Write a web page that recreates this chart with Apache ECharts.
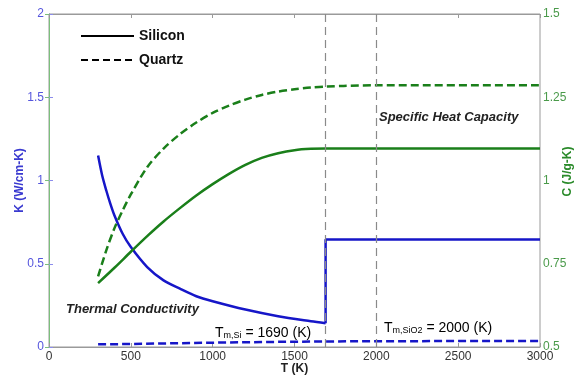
<!DOCTYPE html>
<html><head><meta charset="utf-8">
<script src="https://cdn.jsdelivr.net/npm/echarts@6/dist/echarts.min.js"></script>
<style>html,body{margin:0;padding:0;background:#fff}#c{width:575px;height:377px}</style>
</head><body><div id="c"></div>
<script>
// Temperatures (K) and values
var siK_T    = [300, 325, 350, 375, 400, 450, 500, 600, 700, 800, 900, 1000, 1200, 1400, 1600, 1690];
var siK_V    = [1.15, 1.03, 0.94, 0.86, 0.79, 0.68, 0.60, 0.48, 0.40, 0.35, 0.305, 0.275, 0.225, 0.185, 0.155, 0.143];
var siKliq_T = [1690, 1690, 3000];
var siKliq_V = [0.143, 0.645, 0.645];
var qzK_T    = [300, 500, 800, 1000, 1500, 2000, 3000];
var qzK_V    = [0.016, 0.018, 0.023, 0.026, 0.032, 0.035, 0.036];
var siC_T    = [300, 400, 500, 600, 700, 800, 900, 1000, 1100, 1200, 1300, 1400, 1500, 1600, 1690, 3000];
var siC_V    = [0.692, 0.738, 0.786, 0.833, 0.877, 0.917, 0.955, 0.989, 1.020, 1.047, 1.068, 1.082, 1.091, 1.095, 1.096, 1.096];
var qzC_T    = [300, 350, 400, 450, 500, 600, 700, 800, 900, 1000, 1100, 1200, 1300, 1400, 1500, 1600, 1700, 1800, 2000, 3000];
var qzC_V    = [0.712, 0.79, 0.857, 0.91, 0.958, 1.04, 1.096, 1.139, 1.174, 1.203, 1.225, 1.243, 1.257, 1.267, 1.274, 1.279, 1.282, 1.284, 1.286, 1.286];
var meltT    = [1690, 2000];
var legendNames = ['Silicon', 'Quartz'];

function pairs(t, v){ return t.map(function(x,i){ return [x, v[i]]; }); }

var FONT = 'Liberation Sans, Arial, sans-serif';
var BLUE = '#1616c8', GREEN = '#1a7f1a';

var chart = echarts.init(document.getElementById('c'));
chart.setOption({
  animation: false,
  textStyle: { fontFamily: FONT },
  grid: { left: 49, right: 35, top: 14, bottom: 30, show: true, borderColor: '#9a9a9a', borderWidth: 1,
          containLabel: false, outerBoundsMode: 'none' },
  legend: {
    orient: 'vertical', left: 75, top: 24, itemWidth: 53, itemHeight: 12, itemGap: 10,
    itemStyle: { opacity: 0 },
    textStyle: { fontFamily: FONT, fontSize: 14, fontWeight: 'bold', color: '#111' },
    data: legendNames
  },
  xAxis: [{
    type: 'value', min: 0, max: 3000, interval: 500,
    name: 'T (K)', nameLocation: 'middle', nameGap: 16, nameMoveOverlap: false,
    nameTextStyle: { fontFamily: FONT, fontSize: 12, fontWeight: 'bold', color: '#222' },
    axisLine: { lineStyle: { color: '#9a9a9a' } },
    axisTick: { inside: true, length: 4, lineStyle: { color: '#9a9a9a' } },
    axisLabel: { fontFamily: FONT, fontSize: 12, color: '#333', margin: 4, formatter: function(v){ return String(v); } },
    splitLine: { show: false }
  }, {
    type: 'value', min: 0, max: 3000, interval: 500, position: 'top',
    axisLine: { lineStyle: { color: '#9a9a9a' } },
    axisTick: { inside: true, length: 4, lineStyle: { color: '#9a9a9a' } },
    axisLabel: { show: false }, splitLine: { show: false }
  }],
  yAxis: [{
    type: 'value', min: 0, max: 2, interval: 0.5, position: 'left',
    name: 'K (W/cm-K)', nameLocation: 'middle', nameGap: 23, nameRotate: 90, nameMoveOverlap: false,
    nameTextStyle: { fontFamily: FONT, fontSize: 12, fontWeight: 'bold', color: '#3a3ad0' },
    axisLine: { show: true, lineStyle: { color: '#8c8cec' } },
    axisTick: { show: true, inside: true, length: 4, lineStyle: { color: '#8c8cec' } },
    axisLabel: { fontFamily: FONT, fontSize: 12, color: '#5555dd', margin: 5 },
    splitLine: { show: false }
  }, {
    type: 'value', min: 0.5, max: 1.5, interval: 0.25, position: 'right',
    name: 'C (J/g-K)', nameLocation: 'middle', nameGap: 22, nameRotate: 90, nameMoveOverlap: false,
    nameTextStyle: { fontFamily: FONT, fontSize: 12, fontWeight: 'bold', color: '#2a8a2a', padding: [0, 0, 0, 18] },
    axisLine: { show: true, lineStyle: { color: '#7cbf7c' } },
    axisTick: { show: true, inside: true, length: 4, lineStyle: { color: '#7cbf7c' } },
    axisLabel: { fontFamily: FONT, fontSize: 12, color: '#4a9a4a', margin: 3 },
    splitLine: { show: false }
  }],
  series: [
    { name: 'Silicon', type: 'line', data: [], symbol: 'none', lineStyle: { color: '#000', width: 2.5 }, itemStyle: { color: '#000' } },
    { name: 'Quartz', type: 'line', data: [], symbol: 'none', lineStyle: { color: '#000', width: 2.5, type: [7, 4] }, itemStyle: { color: '#000' } },
    { type: 'line', yAxisIndex: 0, data: pairs(siK_T, siK_V), symbol: 'none', smooth: 0.3,
      lineStyle: { color: BLUE, width: 2.5 } },
    { type: 'line', yAxisIndex: 0, data: pairs(siKliq_T, siKliq_V), symbol: 'none', smooth: false,
      lineStyle: { color: BLUE, width: 2.5 } },
    { type: 'line', yAxisIndex: 0, data: pairs(qzK_T, qzK_V), symbol: 'none',
      lineStyle: { color: BLUE, width: 2.5, type: [8, 4] },
      markLine: { silent: true, symbol: 'none', label: { show: false },
        lineStyle: { color: '#8a8a8a', width: 1.2, type: [8, 5] },
        data: meltT.map(function(t){ return { xAxis: t }; }) } },
    { type: 'line', yAxisIndex: 1, data: pairs(siC_T, siC_V), symbol: 'none', smooth: 0.3,
      lineStyle: { color: GREEN, width: 2.5 } },
    { type: 'line', yAxisIndex: 1, data: pairs(qzC_T, qzC_V), symbol: 'none', smooth: 0.3,
      lineStyle: { color: GREEN, width: 2.5, type: [8, 4] } }
  ],
  graphic: [
    { type: 'text', left: 66, top: 303, style: { text: 'Thermal Conductivity', fontFamily: FONT, fontSize: 13, fontWeight: 'bold', fontStyle: 'italic', fill: '#222' } },
    { type: 'text', left: 379, top: 111, style: { text: 'Specific Heat Capacity', fontFamily: FONT, fontSize: 13, fontWeight: 'bold', fontStyle: 'italic', fill: '#222' } },
    { type: 'text', left: 215, top: 326, style: {
        text: '{a|T}{b|m,Si}{a| = 1690 (K)}',
        rich: { a: { fontFamily: FONT, fontSize: 14, color: '#444', lineHeight: 18, verticalAlign: 'bottom' },
                b: { fontFamily: FONT, fontSize: 9, color: '#444', lineHeight: 10, verticalAlign: 'bottom' } } } },
    { type: 'text', left: 384, top: 321, style: {
        text: '{a|T}{b|m,SiO2}{a| = 2000 (K)}',
        rich: { a: { fontFamily: FONT, fontSize: 14, color: '#444', lineHeight: 18, verticalAlign: 'bottom' },
                b: { fontFamily: FONT, fontSize: 9, color: '#444', lineHeight: 10, verticalAlign: 'bottom' } } } }
  ]
});
</script></body></html>
